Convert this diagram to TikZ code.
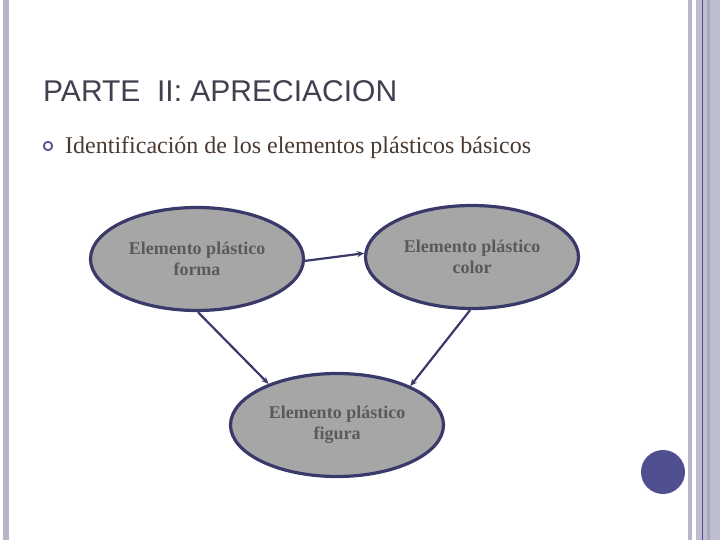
\documentclass[tikz,border=0pt]{standalone}
\usepackage{fontspec}
\setmainfont{Liberation Serif}
\newfontfamily\arialfont{Liberation Sans}
\usetikzlibrary{shapes.geometric,arrows.meta}
\definecolor{navy}{HTML}{3A3A6A}
\definecolor{bullet}{HTML}{50508A}
\definecolor{ellfill}{HTML}{A6A6A6}
\definecolor{elltext}{HTML}{5A5A5A}
\definecolor{titlecol}{HTML}{404050}
\definecolor{bodycol}{HTML}{4A3A30}
\definecolor{barcol}{HTML}{B6B6C8}
\definecolor{barlight}{HTML}{BEBED0}
\definecolor{bardark}{HTML}{A8A8BC}
\definecolor{dotcol}{HTML}{505090}
\tikzset{
  elem/.style={ellipse, draw=navy, line width=3.2pt, fill=ellfill,
    minimum width=213pt, minimum height=103pt, inner sep=0pt,
    text=elltext, font=\bfseries\fontsize{18}{21}\selectfont, align=center},
  conn/.style={draw=navy, line width=2.2pt, -{Stealth[length=7pt,width=6pt]}}
}
\begin{document}
\begin{tikzpicture}[x=1pt,y=-1pt]
\useasboundingbox (0,0) rectangle (720,540);
\fill[white] (0,0) rectangle (720,540);
% borders
\fill[barcol] (3,0) rectangle (9,540);
\fill[barcol] (688,0) rectangle (692,540);
\fill[barlight] (696,0) rectangle (720,540);
\fill[bardark] (707,0) rectangle (710,540);
\fill[bullet] (701.5,0) rectangle (702.7,540);
% title
\node[anchor=base west, inner sep=0pt, text=titlecol, font=\arialfont\fontsize{30}{34}\selectfont] (title) at (43,102) {PARTE\ \ II: APRECIACION};
% bullet
\draw[bullet, line width=1.8pt] (48,146) circle (4.2);
\node[anchor=base west, inner sep=0pt, text=bodycol, font=\fontsize{24}{28}\selectfont] (body) at (65,154) {Identificación de los elementos plásticos básicos};
% ellipses
\node[elem] (forma) at (197,259) {Elemento plástico\\forma};
\node[elem] (color) at (472,257) {Elemento plástico\\color};
\node[elem] (figura) at (337,425) {Elemento plástico\\figura};
% connectors
\draw[conn] (forma.-1) -- (color.178);
\draw[conn] (forma.-89) -- (figura.149);
\draw[conn] (color.-92) -- (figura.28);
% dot
\fill[dotcol] (663,472) circle (22);
\end{tikzpicture}
\end{document}
